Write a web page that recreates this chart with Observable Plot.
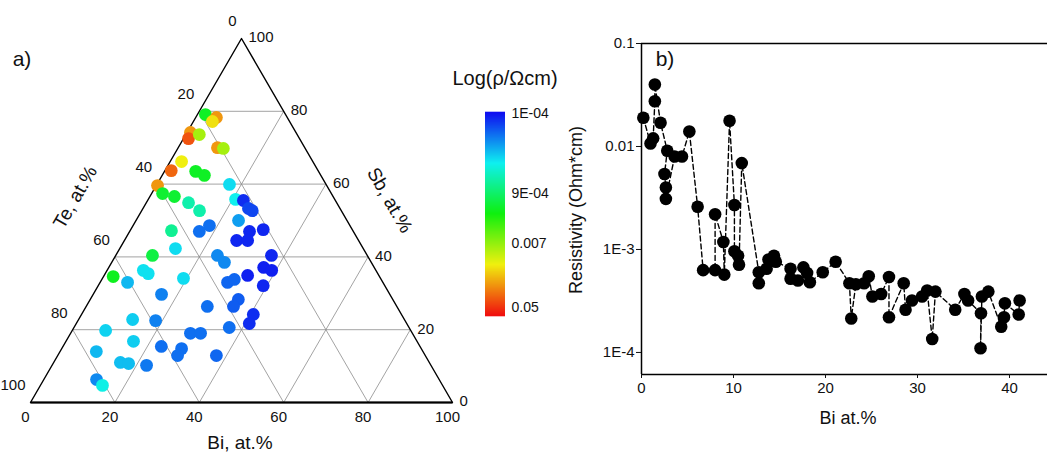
<!DOCTYPE html>
<html><head><meta charset="utf-8">
<script src="https://cdn.jsdelivr.net/npm/d3@7"></script>
<script src="https://cdn.jsdelivr.net/npm/@observablehq/plot@0.6"></script>
<style>
body{margin:0;background:#fff;overflow:hidden;font-family:"Liberation Sans",Arial,sans-serif;}
#wrap{position:relative;width:1047px;height:456px;overflow:hidden;background:#fff;}
.pane{position:absolute;top:0;}
.lbl{position:absolute;white-space:nowrap;transform:translate(-50%,-50%);color:#111;line-height:1;}
</style></head><body><div id="wrap"></div>
<script>
// ---------- Data: ternary panel (a) ----------
const terBi = [1.9,4.9,4.5,0.8,1.2,3.2,9.3,10.8,2.7,1.5,7.4,10.0,0.3,2.6,5.8,17.2,20.7,22.7,25.0,26.2,10.0,13.7,24.3,18.1,16.5,9.8,31.4,28.4,26.6,29.2,13.2,8.7,24.1,26.7,36.9,8.6,10.2,2.3,6.5,19.2,34.0,36.7,39.0,30.2,31.4,39.1,16.2,28.7,35.1,34.9,40.7,41.0,12.8,18.4,7.9,36.8,28.4,30.8,16.0,23.3,8.6,28.4,28.4,37.6,15.8,17.9,22.4,12.5,14.7];
const terSb = [79.1,78.3,77.2,74.2,72.5,73.6,70.0,69.8,66.2,63.7,63.5,62.4,59.6,57.4,56.6,59.9,55.8,55.5,53.3,52.7,54.9,52.7,50.0,48.6,47.0,47.2,47.5,47.0,44.5,44.5,42.3,40.4,40.4,38.5,40.4,36.3,35.4,34.6,33.0,34.1,34.9,37.1,36.3,33.0,33.8,32.1,29.7,26.4,28.3,26.4,24.2,21.7,22.8,22.5,19.8,20.6,19.0,19.0,16.8,15.4,14.0,14.8,12.9,12.9,11.0,10.7,10.2,6.3,4.7];
const terRho = [1.7e-3,0.025,0.015,0.025,0.04,0.008,0.025,0.008,0.0135,0.035,1.7e-3,1.7e-3,0.025,1.5e-3,1.5e-3,3.5e-4,4e-4,1.2e-4,1.4e-4,1.4e-4,6e-4,6e-4,2.4e-4,1.8e-4,1.8e-4,7e-4,1.15e-4,1.15e-4,1.15e-4,1.15e-4,3.5e-4,1.3e-3,2.1e-4,2.1e-4,1.15e-4,3.6e-4,3.6e-4,1.8e-3,2.8e-4,3.5e-4,1.1e-4,1.1e-4,1.1e-4,1.7e-4,1.7e-4,1.15e-4,2.0e-4,1.8e-4,1.6e-4,1.6e-4,1.2e-4,1.2e-4,3.2e-4,2.0e-4,3.3e-4,1.8e-4,1.8e-4,1.8e-4,3.2e-4,1.8e-4,2.8e-4,1.8e-4,1.8e-4,1.7e-4,2.9e-4,2.9e-4,1.9e-4,2.1e-4,4.2e-4];
const terTicks = [0,20,40,60,80,100];
const terGrid = [20,40,60,80];

// ---------- Colour bar ----------
const cbTicks = [1e-4, 9e-4, 0.007, 0.05];
const cbTickLabels = ["1E-04","9E-04","0.007","0.05"];

// ---------- Data: resistivity panel (b) ----------
const resBi = [0.2,0.98,1.27,1.45,1.45,2.07,2.8,2.5,2.65,2.65,3.6,4.4,5.2,6.1,6.7,8.0,8.0,8.9,9.0,9.57,10.1,10.1,10.5,10.6,10.9,12.75,12.75,13.6,13.8,14.4,14.6,16.2,16.2,17.0,17.6,18.0,18.3,19.7,21.1,22.6,22.8,23.3,24.2,24.7,25.1,26.05,26.9,26.9,28.5,28.7,29.4,30.5,31.05,31.6,31.95,34.1,35.1,35.5,36.9,36.85,37.0,37.7,39.1,39.4,39.5,41.0,41.1];
const resRho = [0.019,0.0107,0.012,0.0275,0.040,0.017,0.0091,0.0054,0.0040,0.0031,0.008,0.008,0.014,0.0026,0.00063,0.00063,0.0022,0.00118,0.00057,0.0178,0.0027,0.00096,0.00087,0.00071,0.0069,0.0006,0.00047,0.00065,0.0008,0.00087,0.00076,0.00065,0.00052,0.0005,0.00067,0.00059,0.00048,0.0006,0.00076,0.00047,0.000214,0.00046,0.00047,0.00055,0.00035,0.00037,0.00054,0.00022,0.00047,0.00026,0.00032,0.00035,0.0004,0.000135,0.00039,0.00026,0.00037,0.00032,0.00024,0.00011,0.00035,0.00039,0.000178,0.00022,0.0003,0.000234,0.00032];
const resYTicks = [0.1,0.01,0.001,0.0001];
const resYTickLabels = ["0.1","0.01","1E-3","1E-4"];
const resXTicks = [0,10,20,30,40];
const resXDomain = [0, 44.13];
const resYDomain = [6.11e-5, 0.1];

// ---------- helpers ----------
const FONT = "Liberation Sans, Arial, sans-serif";
const wrap = document.getElementById("wrap");
function place(node, left, width){
  const d = document.createElement("div");
  d.className = "pane"; d.style.left = left + "px"; d.style.width = width + "px";
  d.appendChild(node); wrap.appendChild(d);
}
function label(text, x, y, size, rot){
  const d = document.createElement("div");
  d.className = "lbl"; d.textContent = text;
  d.style.left = x + "px"; d.style.top = y + "px"; d.style.fontSize = size + "px";
  if (rot) d.style.transform = `translate(-50%,-50%) rotate(${rot}deg)`;
  wrap.appendChild(d);
}
const rainbowBase = d3.interpolateHslLong(d3.hsl(240, 0.88, 0.5), d3.hsl(0, 0.88, 0.5));
const rainbow = (t) => rainbowBase(Math.max(0, Math.min(1, t)));
const colorScale = {type: "log", domain: cbTicks, range: [0, 0.4, 0.645, 0.96], interpolate: rainbow};
const baseStyle = {fontFamily: FONT, fontSize: "15px", color: "#111", background: "transparent", overflow: "visible", maxWidth: "none"};

// ---------- ternary ----------
const tern = (bi, sb) => ({x: bi + sb / 2, y: sb});
const pts = terBi.map((b, i) => ({...tern(b, terSb[i]), rho: terRho[i]}));
const gridLines = [];
for (const k of terGrid) {
  gridLines.push([tern(0, k), tern(100 - k, k)]);     // constant Sb
  gridLines.push([tern(k, 0), tern(k, 100 - k)]);     // constant Bi
  gridLines.push([tern(100 - k, 0), tern(0, 100 - k)]); // constant Te
}
const corners = [tern(0, 0), tern(100, 0), tern(0, 100), tern(0, 0)];
const biTickPts = terTicks.map(v => ({...tern(v, 0), t: String(v)}));
const sbTickPts = terTicks.map(v => ({...tern(100 - v, v), t: String(v)}));
const teTickPts = terTicks.map(v => ({...tern(0, 100 - v), t: String(v)}));

const ternPlot = Plot.plot({
  width: 470, height: 456, marginLeft: 30, marginRight: 18, marginTop: 38, marginBottom: 54,
  x: {domain: [0, 100], axis: null},
  y: {domain: [0, 100], axis: null},
  color: colorScale,
  style: baseStyle,
  marks: [
    Plot.link(gridLines, {x1: d => d[0].x, y1: d => d[0].y, x2: d => d[1].x, y2: d => d[1].y, stroke: "#8c8c8c", strokeWidth: 0.8}),
    Plot.line(corners, {x: "x", y: "y", stroke: "#000", strokeWidth: 1.4}),
    Plot.link([[corners[0], corners[1]]], {x1: d => d[0].x, y1: d => d[0].y, x2: d => d[1].x, y2: d => d[1].y, stroke: "#000", strokeWidth: 2.2}),
    Plot.dot(pts, {x: "x", y: "y", fill: "rho", r: 6.4}),
    Plot.text(biTickPts, {x: "x", y: "y", text: "t", dx: -5, dy: 15, fontSize: 15, fill: "#111"}),
    Plot.text(sbTickPts, {x: "x", y: "y", text: "t", dx: 7, dy: -1, textAnchor: "start", fontSize: 15, fill: "#111"}),
    Plot.text(teTickPts, {x: "x", y: "y", text: "t", dx: -5, dy: -17, textAnchor: "end", fontSize: 15, fill: "#111"})
  ]
});
place(ternPlot, 0, 470);

// ---------- colour bar ----------
const cbY = [113, 193, 243, 307];
const cbPix = d3.scaleLog().domain(cbTicks).range(cbY);
const slices = d3.range(112, 316, 1).map(p => cbPix.invert(p));
const cbPlot = Plot.plot({
  width: 90, height: 456, marginLeft: 15, marginRight: 55, marginTop: 0, marginBottom: 0,
  x: {axis: null},
  y: {type: "log", domain: cbTicks, range: cbY, axis: null},
  color: colorScale,
  style: baseStyle,
  marks: [
    Plot.ruleY(slices, {y: d => d, stroke: d => d, strokeWidth: 1.6}),
    Plot.text(cbTicks, {y: d => d, text: (d, i) => cbTickLabels[i], frameAnchor: "right", textAnchor: "start", dx: 6, fontSize: 14, fill: "#111"})
  ]
});
place(cbPlot, 470, 90);

// ---------- resistivity ----------
const resData = resBi.map((b, i) => ({bi: b, rho: resRho[i]}));
const resPlot = Plot.plot({
  width: 487, height: 456, marginLeft: 81, marginRight: 0, marginTop: 43, marginBottom: 82,
  x: {domain: resXDomain, axis: null},
  y: {type: "log", domain: resYDomain, axis: null},
  style: baseStyle,
  marks: [
    Plot.ruleY([resYDomain[1]], {stroke: "#000", strokeWidth: 1.5}),
    Plot.ruleY([resYDomain[0]], {stroke: "#000", strokeWidth: 1.5}),
    Plot.ruleX([resXDomain[0]], {stroke: "#000", strokeWidth: 1.5}),
    Plot.axisY({ticks: resYTicks, tickSize: 5, tickPadding: 2, fontSize: 15, tickFormat: d => resYTickLabels[resYTicks.indexOf(d)], label: null}),
    Plot.axisX({ticks: resXTicks, tickSize: 4, tickPadding: 4, fontSize: 15, label: null}),
    Plot.line(resData, {x: "bi", y: "rho", stroke: "#000", strokeWidth: 1.4, strokeDasharray: "5,3"}),
    Plot.dot(resData, {x: "bi", y: "rho", r: 6.3, fill: "#000"})
  ]
});
place(resPlot, 560, 487);

// ---------- titles ----------
label("a)", 22, 58, 21);
label("Te, at.%", 75, 197, 19, -60);
label("Sb, at.%", 390, 200, 19, 60);
label("Bi, at.%", 240, 442, 19);
label("Log(\u03c1/\u03a9cm)", 505, 78, 20);
label("b)", 665, 58, 21);
label("Resistivity (Ohm*cm)", 576, 210, 18, -90);
label("Bi at.%", 848, 418, 18);
</script></body></html>
